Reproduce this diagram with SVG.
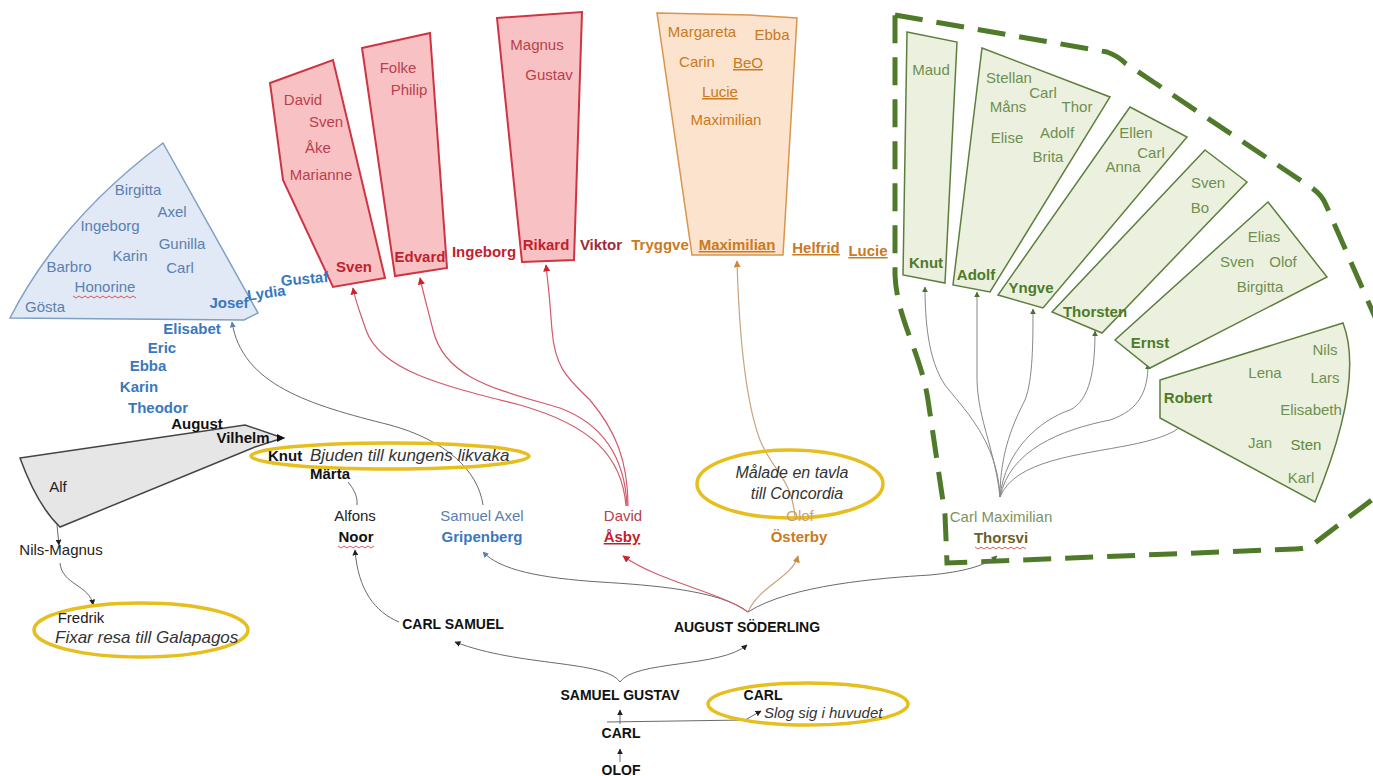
<svg xmlns="http://www.w3.org/2000/svg" width="1373" height="776" viewBox="0 0 1373 776">
<defs>
<style>
text{font-family:"Liberation Sans",Arial,sans-serif;font-size:15px;text-anchor:middle}
.b{fill:#5b80b0}
.bb{fill:#3a78be;font-weight:bold}
.r{fill:#b8404c}
.rb{fill:#c21e2e;font-weight:bold}
.o{fill:#c97a22}
.ob{fill:#c97a22;font-weight:bold}
.g{fill:#6f8f50}
.gb{fill:#4e7b28;font-weight:bold}
.k{fill:#111;font-weight:bold}
.cap{font-size:14px}
.kn{fill:#222}
.it{fill:#333;font-style:italic;text-anchor:start;font-size:17px}
.u{text-decoration:underline}
.bluebox{fill:#e0e9f5;stroke:#7f9fc4;stroke-width:1.5}
.redbox{fill:#f8c2c4;stroke:#cf3444;stroke-width:2}
.orbox{fill:#fbe3cd;stroke:#d8954e;stroke-width:1.5}
.grbox{fill:#ebf1de;stroke:#5e7e3e;stroke-width:1.5}
.ell{fill:none;stroke:#e6be1e;stroke-width:3.5}
.c{fill:none;stroke:#6a6a6a;stroke-width:1}
.cr{fill:none;stroke:#d25a6a;stroke-width:1.2}
.co{fill:none;stroke:#c9a47c;stroke-width:1.2}
.cg{fill:none;stroke:#888;stroke-width:1}
.wavy{fill:none;stroke:#d03030;stroke-width:0.8}
</style>
<marker id="ak" viewBox="0 0 10 10" refX="9" refY="5" markerWidth="6" markerHeight="6" orient="auto"><path d="M0,0 L10,5 L0,10 Z" fill="#222"/></marker>
<marker id="ar" viewBox="0 0 10 10" refX="9" refY="5" markerWidth="6" markerHeight="6" orient="auto"><path d="M0,0 L10,5 L0,10 Z" fill="#d0202e"/></marker>
<marker id="ao" viewBox="0 0 10 10" refX="9" refY="5" markerWidth="6" markerHeight="6" orient="auto"><path d="M0,0 L10,5 L0,10 Z" fill="#c98a40"/></marker>
<marker id="ab" viewBox="0 0 10 10" refX="9" refY="5" markerWidth="6" markerHeight="6" orient="auto"><path d="M0,0 L10,5 L0,10 Z" fill="#5b80b0"/></marker>
<marker id="ag" viewBox="0 0 10 10" refX="9" refY="5" markerWidth="6" markerHeight="6" orient="auto"><path d="M0,0 L10,5 L0,10 Z" fill="#4e6e2e"/></marker>
</defs>
<rect width="1373" height="776" fill="#ffffff"/>

<g id="green-boundary">
<path d="M895,15 L1107,52 Q1118,56 1125,63 L1312,188 Q1322,195 1326,205 L1385,340 L1385,490 L1312,545 Q1305,549 1295,549 L947,563 L945,515 L928,400 C920,350 897,320 895,275 Z" fill="none" stroke="#4f7a2a" stroke-width="5" stroke-dasharray="28,14"/>
</g>

<g id="connectors">
<path class="c" d="M620,762 L620,749" marker-end="url(#ak)"/>
<path class="c" d="M620,724 L620,710" marker-end="url(#ak)"/>
<path class="c" d="M607,722 L745,720 L761,711" marker-end="url(#ak)"/>
<path class="c" d="M620,682 C605,660 520,667 455,642" marker-end="url(#ak)"/>
<path class="c" d="M620,682 C635,660 720,668 747,645" marker-end="url(#ak)"/>
<path class="c" d="M399,622 C375,612 358,590 355,550" marker-end="url(#ak)"/>
<path class="c" d="M357,505 C358,495 352,487 348,482"/>
<path class="c" d="M748,612 C720,590 650,585 600,582 C540,578 500,570 483,552" marker-end="url(#ab)"/>
<path class="cr" d="M748,612 C720,592 660,582 623,556" marker-end="url(#ar)"/>
<path class="co" d="M748,612 C760,585 792,578 798,556" marker-end="url(#ao)"/>
<path class="c" d="M748,612 C790,585 880,578 930,575 C962,572 985,566 997,556" marker-end="url(#ag)"/>
<path class="c" d="M57,525 L59,545" marker-end="url(#ak)"/>
<path class="c" d="M60,563 C62,585 90,585 93,605" marker-end="url(#ak)"/>
<path class="c" d="M483,505 C478,470 445,440 390,425 C310,405 242,385 232,322" marker-end="url(#ab)"/>
<path class="cr" d="M626,506 C622,455 590,425 520,405 C440,385 380,370 366,330 C360,312 355,300 353,288" marker-end="url(#ar)"/>
<path class="cr" d="M627,506 C625,460 605,425 560,408 C500,390 445,380 433,330 C428,310 423,292 420,278" marker-end="url(#ar)"/>
<path class="cr" d="M628,506 C628,460 615,430 590,400 C570,380 555,370 552,330 C550,300 548,282 546,265" marker-end="url(#ar)"/>
<path class="co" d="M795,518 C793,480 772,470 760,440 C745,400 739,330 737,261" marker-end="url(#ao)"/>
<path class="cg" d="M1000,497 C998,440 960,405 945,385 C928,360 925,320 925,287" marker-end="url(#ag)"/>
<path class="cg" d="M1000,497 C995,450 978,420 977,380 L977,292" marker-end="url(#ag)"/>
<path class="cg" d="M1000,497 C1000,450 1015,420 1025,400 C1033,380 1033,340 1033,309" marker-end="url(#ag)"/>
<path class="cg" d="M1000,497 C1005,450 1040,420 1070,410 C1090,400 1095,370 1095,331" marker-end="url(#ag)"/>
<path class="cg" d="M1000,497 C1010,450 1060,430 1110,420 C1140,410 1148,390 1148,364" marker-end="url(#ag)"/>
<path class="cg" d="M1000,497 C1015,460 1080,455 1130,445 C1170,437 1185,428 1188,414" marker-end="url(#ag)"/>
</g>

<g id="node-red-sven">
<path class="redbox" d="M270,83 L333,60 L385,278 L333,287 L283,180 Z"/>
<text class="r" x="303" y="105">David</text>
<text class="r" x="326" y="127">Sven</text>
<text class="r" x="318" y="153">Åke</text>
<text class="r" x="321" y="180">Marianne</text>
<text class="rb" x="354" y="272">Sven</text>
</g>
<g id="node-red-edvard">
<path class="redbox" d="M362,48 L430,33 L447,268 L395,276 Z"/>
<text class="r" x="398" y="73">Folke</text>
<text class="r" x="409" y="95">Philip</text>
<text class="rb" x="420" y="262">Edvard</text>
</g>
<g id="node-red-rikard">
<path class="redbox" d="M497,18 L582,12 L574,260 L522,262 Z"/>
<text class="r" x="537" y="50">Magnus</text>
<text class="r" x="549" y="80">Gustav</text>
<text class="rb" x="546" y="250">Rikard</text>
</g>
<g id="node-red-siblings">
<text class="rb" x="484" y="257">Ingeborg</text>
<text class="rb" x="601" y="250" style="fill:#a02a36">Viktor</text>
</g>

<g id="node-blue">
<path class="bluebox" d="M163,143 L258,313 L244,320 L10,318 Q60,220 163,143 Z"/>
<text class="b" x="138" y="195">Birgitta</text>
<text class="b" x="172" y="217">Axel</text>
<text class="b" x="110" y="231">Ingeborg</text>
<text class="b" x="182" y="249">Gunilla</text>
<text class="b" x="130" y="261">Karin</text>
<text class="b" x="180" y="273">Carl</text>
<text class="b" x="69" y="272">Barbro</text>
<text class="b" x="105" y="292">Honorine</text>
<path class="wavy" d="M73,296 l3,2 l3,-2 l3,2 l3,-2 l3,2 l3,-2 l3,2 l3,-2 l3,2 l3,-2 l3,2 l3,-2 l3,2 l3,-2 l3,2 l3,-2 l3,2 l3,-2 l3,2 l3,-2 l3,2"/>
<text class="b" x="45" y="312">Gösta</text>
<text class="bb" x="229" y="308">Josef</text>
<text class="bb" x="267" y="298" transform="rotate(-8 267 298)">Lydia</text>
<text class="bb" x="305" y="284" transform="rotate(-5 305 284)">Gustaf</text>
<text class="bb" x="192" y="334">Elisabet</text>
<text class="bb" x="162" y="353">Eric</text>
<text class="bb" x="148" y="371">Ebba</text>
<text class="bb" x="139" y="392">Karin</text>
<text class="bb" x="158" y="413">Theodor</text>
</g>

<g id="node-orange">
<path class="orbox" d="M657,13 L750,15 L797,18 L783,255 L692,255 Z"/>
<text class="o" x="702" y="37">Margareta</text>
<text class="o" x="772" y="40">Ebba</text>
<text class="o" x="697" y="67">Carin</text>
<text class="o u" x="748" y="68">BeO</text>
<text class="o u" x="720" y="97">Lucie</text>
<text class="o" x="726" y="125">Maximilian</text>
<text class="ob u" x="737" y="250">Maximilian</text>
</g>
<g id="node-orange-siblings">
<text class="ob" x="660" y="250">Tryggve</text>
<text class="ob u" x="816" y="253">Helfrid</text>
<text class="ob u" x="868" y="256">Lucie</text>
</g>

<g id="node-green-knut">
<path class="grbox" d="M907,32 L957,42 L945,283 L903,275 Z"/>
<text class="g" x="931" y="75">Maud</text>
<text class="gb" x="926" y="268">Knut</text>
</g>
<g id="node-green-adolf">
<path class="grbox" d="M982,48 L1110,97 L990,292 L953,285 Z"/>
<text class="g" x="1009" y="83">Stellan</text>
<text class="g" x="1043" y="98">Carl</text>
<text class="g" x="1008" y="112">Måns</text>
<text class="g" x="1077" y="112">Thor</text>
<text class="g" x="1007" y="143">Elise</text>
<text class="g" x="1057" y="138">Adolf</text>
<text class="g" x="1048" y="162">Brita</text>
<text class="gb" x="976" y="280">Adolf</text>
</g>
<g id="node-green-yngve">
<path class="grbox" d="M1130,107 L1187,137 L1043,308 L998,295 Z"/>
<text class="g" x="1136" y="138">Ellen</text>
<text class="g" x="1151" y="158">Carl</text>
<text class="g" x="1123" y="172">Anna</text>
<text class="gb" x="1031" y="293">Yngve</text>
</g>
<g id="node-green-thorsten">
<path class="grbox" d="M1205,150 L1247,182 L1102,333 L1052,312 Z"/>
<text class="g" x="1208" y="188">Sven</text>
<text class="g" x="1200" y="213">Bo</text>
<text class="gb" x="1095" y="317">Thorsten</text>
</g>
<g id="node-green-ernst">
<path class="grbox" d="M1268,202 L1327,277 L1150,368 L1115,340 Z"/>
<text class="g" x="1264" y="242">Elias</text>
<text class="g" x="1237" y="267">Sven</text>
<text class="g" x="1283" y="267">Olof</text>
<text class="g" x="1260" y="292">Birgitta</text>
<text class="gb" x="1150" y="348">Ernst</text>
</g>
<g id="node-green-robert">
<path class="grbox" d="M1160,380 L1343,323 Q1365,380 1315,502 L1160,418 Z"/>
<text class="g" x="1325" y="355">Nils</text>
<text class="g" x="1265" y="378">Lena</text>
<text class="g" x="1325" y="383">Lars</text>
<text class="g" x="1311" y="415">Elisabeth</text>
<text class="g" x="1260" y="448">Jan</text>
<text class="g" x="1306" y="450" style="fill:#5a8a3a">Sten</text>
<text class="g" x="1301" y="483">Karl</text>
<text class="gb" x="1188" y="403">Robert</text>
</g>
<g id="node-thorsvi">
<text class="g" x="1001" y="522" style="fill:#7a9460">Carl Maximilian</text>
<text x="1001" y="543" style="fill:#6b5f2a;font-weight:bold">Thorsvi</text>
<path class="wavy" d="M975,547 l3,2 l3,-2 l3,2 l3,-2 l3,2 l3,-2 l3,2 l3,-2 l3,2 l3,-2 l3,2 l3,-2 l3,2 l3,-2 l3,2 l3,-2 l3,2"/>
</g>

<g id="node-gray">
<path d="M20,458 L245,425 L283,438 L255,447 L60,527 C42,510 28,480 20,458 Z" fill="#e6e6e6" stroke="#444" stroke-width="1.5"/>
<text class="k" x="197" y="429">August</text>
<text class="k" x="243" y="443">Vilhelm</text>
<path d="M277,434 L285,438 L277,442 Z" fill="#111"/>
<text class="kn" x="58" y="492">Alf</text>
</g>

<g id="node-knut-ellipse">
<ellipse class="ell" cx="390" cy="456" rx="139" ry="13"/>
<text class="k" x="268" y="461" style="text-anchor:start">Knut</text>
<text class="it" x="310" y="461">Bjuden till kungens likvaka</text>
<text class="k" x="330" y="479">Märta</text>
</g>

<g id="node-nils">
<text class="kn" x="61" y="555">Nils-Magnus</text>
</g>
<g id="node-fredrik">
<ellipse class="ell" cx="141" cy="630" rx="107" ry="27"/>
<text class="kn" x="81" y="623">Fredrik</text>
<text class="it" x="55" y="643">Fixar resa till Galapagos</text>
</g>

<g id="node-noor">
<text class="kn" x="355" y="521">Alfons</text>
<text class="k" x="356" y="542">Noor</text>
<path class="wavy" d="M338,546 l3,2 l3,-2 l3,2 l3,-2 l3,2 l3,-2 l3,2 l3,-2 l3,2 l3,-2 l3,2 l3,-2"/>
</g>
<g id="node-gripenberg">
<text class="b" x="482" y="521">Samuel Axel</text>
<text class="bb" x="482" y="542">Gripenberg</text>
</g>
<g id="node-asby">
<text class="r" x="623" y="521">David</text>
<text class="rb u" x="622" y="542">Åsby</text>
</g>
<g id="node-osterby">
<ellipse class="ell" cx="790" cy="484" rx="93" ry="34"/>
<text class="it" x="792" y="478" style="text-anchor:middle;font-size:16px">Målade en tavla</text>
<text class="it" x="797" y="499" style="text-anchor:middle;font-size:16px">till Concordia</text>
<text class="o" x="800" y="521" style="fill:#c9a070">Olof</text>
<text class="ob" x="799" y="542">Österby</text>
</g>

<g id="node-carl-samuel"><text class="k cap" x="453" y="629">CARL SAMUEL</text></g>
<g id="node-august-soderling"><text class="k cap" x="747" y="632">AUGUST SÖDERLING</text></g>
<g id="node-samuel-gustav"><text class="k cap" x="620" y="700">SAMUEL GUSTAV</text></g>
<g id="node-carl-slog">
<ellipse class="ell" cx="808" cy="704" rx="100" ry="21"/>
<text class="k cap" x="763" y="700">CARL</text>
<text class="it" x="764" y="718" style="font-size:15px">Slog sig i huvudet</text>
</g>
<g id="node-carl"><text class="k cap" x="621" y="738">CARL</text></g>
<g id="node-olof"><text class="k cap" x="621" y="775">OLOF</text></g>
</svg>
